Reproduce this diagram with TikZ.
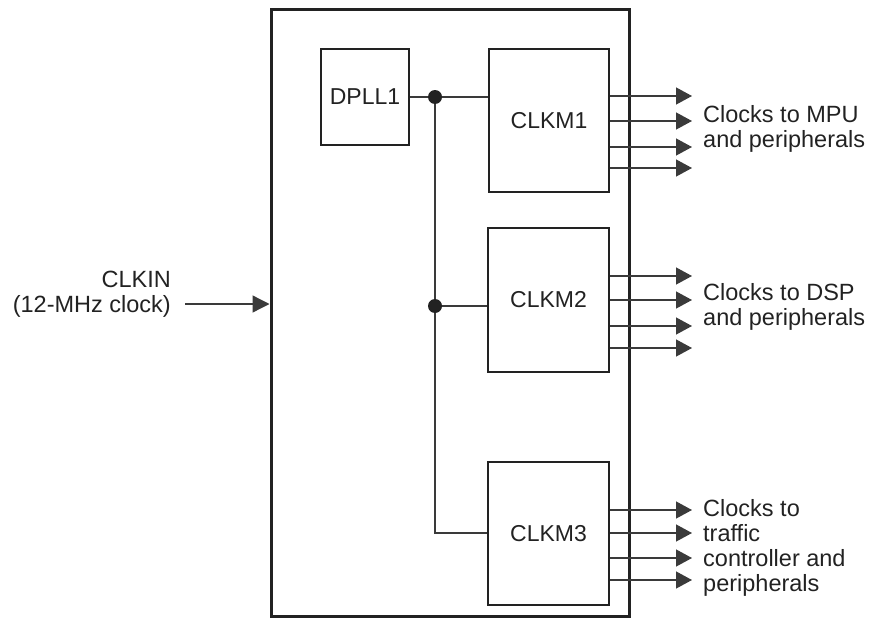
\documentclass[tikz,border=0pt]{standalone}
\usepackage{fontspec}
\setmainfont{Liberation Sans}
\usetikzlibrary{arrows.meta}
\definecolor{ink}{HTML}{222222}
\definecolor{wire}{HTML}{3A3A3A}
\tikzset{
  lbl/.style={font=\fontsize{23.5}{25}\selectfont, text=ink, inner sep=0pt},
  outerbox/.style={draw=ink, line width=3pt, minimum width=358pt, minimum height=606pt, inner sep=0pt},
  blockbox/.style={draw=ink, line width=2pt, inner sep=0pt, font=\fontsize{23}{25}\selectfont, text=ink},
  sig/.style={draw=wire, line width=1.3pt},
  sigarrow/.style={sig, -{Triangle[length=16pt,width=17pt]}},
  inarrow/.style={sig, -{Triangle[length=17pt,width=17pt]}},
  dot/.style={circle, fill=ink, minimum size=14pt, inner sep=0pt},
}
\begin{document}
\begin{tikzpicture}[x=1pt,y=-1pt]
\useasboundingbox (0,0) rectangle (870,618);
% outer chip box
\node[outerbox] (chip) at (450,313) {};
% blocks
\node[blockbox, minimum width=88pt, minimum height=96pt] (dpll) at (365,97) {DPLL1};
\node[blockbox, minimum width=120pt, minimum height=143pt] (c1) at (549,120.5) {CLKM1};
\node[blockbox, minimum width=121pt, minimum height=144pt] (c2) at (548.5,300) {CLKM2};
\node[blockbox, minimum width=121pt, minimum height=143pt] (c3) at (548.5,533.5) {CLKM3};
% junctions
\node[dot] (j1) at (435,97) {};
\node[dot] (j2) at (435,306) {};
\coordinate (j3) at (435,533);
\draw[sig] (dpll.east |- j1) -- (j1) -- (c1.west |- j1);
\draw[sig] (j1) -- (j2) -- (j3) -- (c3.west |- j3);
\draw[sig] (j2) -- (c2.west |- j2);
% outputs
\foreach \y [count=\i] in {96,121,147,168} {
  \coordinate (oa\i) at (692,\y);
  \draw[sigarrow] (c1.east |- oa\i) -- (oa\i);
}
\foreach \y [count=\i] in {276,300,326,348} {
  \coordinate (ob\i) at (692,\y);
  \draw[sigarrow] (c2.east |- ob\i) -- (ob\i);
}
\foreach \y [count=\i] in {510,533,558,580} {
  \coordinate (oc\i) at (692,\y);
  \draw[sigarrow] (c3.east |- oc\i) -- (oc\i);
}
% input
\coordinate (ins) at (185,304);
\draw[inarrow] (ins) -- (chip.west |- ins);
% labels
\node[lbl, anchor=north east, align=right] (clkin) at (171,271.2) {CLKIN\\(12-MHz clock)};
\node[lbl, anchor=north west, align=left] (lmpu) at (703,105.2) {Clocks to MPU\\and peripherals};
\node[lbl, anchor=north west, align=left] (ldsp) at (703,283.2) {Clocks to DSP\\and peripherals};
\node[lbl, anchor=north west, align=left] (ltc) at (703,499.2) {Clocks to\\traffic\\controller and\\peripherals};
\end{tikzpicture}
\end{document}
